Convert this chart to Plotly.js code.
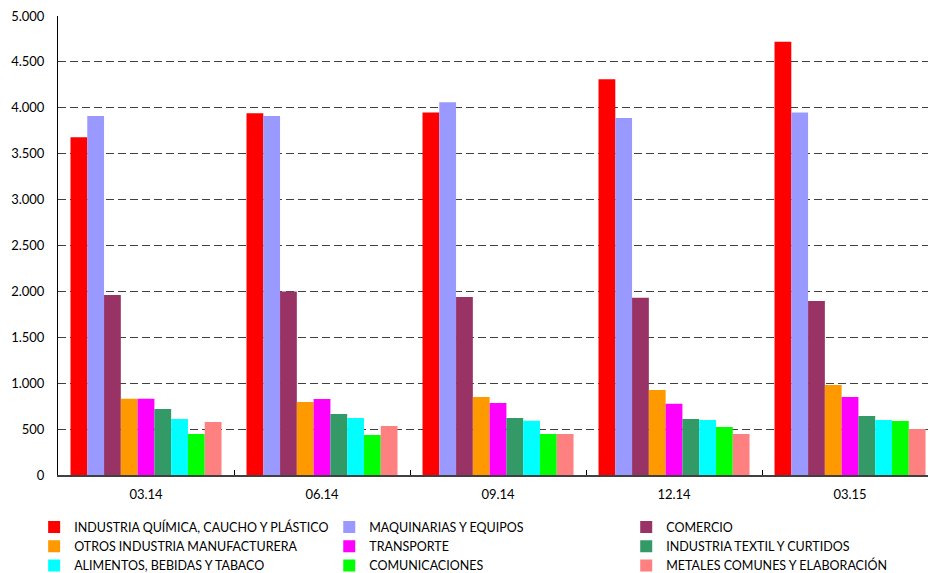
<!DOCTYPE html>
<html>
<head>
<meta charset="utf-8">
<script src="https://cdn.plot.ly/plotly-3.0.1.min.js"></script>
<style>
html,body{margin:0;padding:0;overflow:hidden;background:#fff;}
#chart{width:928px;height:573px;}
</style>
</head>
<body>
<div id="chart"></div>
<script>
var periods = ["03.14", "06.14", "09.14", "12.14", "03.15"];

var seriesNames = [
  "INDUSTRIA QUÍMICA, CAUCHO Y PLÁSTICO",
  "MAQUINARIAS Y EQUIPOS",
  "COMERCIO",
  "OTROS INDUSTRIA MANUFACTURERA",
  "TRANSPORTE",
  "INDUSTRIA TEXTIL Y CURTIDOS",
  "ALIMENTOS, BEBIDAS Y TABACO",
  "COMUNICACIONES",
  "METALES COMUNES Y ELABORACIÓN"
];

var quimica       = [3680, 3940, 3950, 4310, 4720];
var maquinarias   = [3910, 3910, 4060, 3890, 3950];
var comercio      = [1960, 2000, 1940, 1930, 1895];
var otrosInd      = [830, 795, 850, 925, 980];
var transporte    = [830, 828, 785, 775, 850];
var textil        = [720, 665, 620, 610, 643];
var alimentos     = [610, 620, 590, 600, 600];
var comunicaciones= [447, 436, 447, 523, 588];
var metales       = [577, 534, 447, 447, 501];

var seriesValues = [quimica, maquinarias, comercio, otrosInd, transporte, textil, alimentos, comunicaciones, metales];
var colors = ["#FF0000", "#9999FF", "#993366", "#FF9900", "#FF00FF", "#339966", "#00FFFF", "#00FF00", "#FF8080"];
var legendIds = ["legend", "legend2", "legend3"];

var traces = seriesNames.map(function(name, i) {
  return {
    type: "bar",
    name: name,
    x: periods,
    y: seriesValues[i],
    marker: {color: colors[i], line: {width: 0}},
    legend: legendIds[i % 3],
    hoverinfo: "x+y+name"
  };
});

var legendFont = {family: "Lato, 'Liberation Sans', sans-serif", size: 12.5, color: "#000"};
function mkLegend(x) {
  return {
    xref: "container", yref: "container",
    x: x, y: 0.106, xanchor: "left", yanchor: "top",
    orientation: "v", font: legendFont,
    bgcolor: "rgba(0,0,0,0)", borderwidth: 0,
    tracegroupgap: 0, itemwidth: 30,
    traceorder: "normal"
  };
}

var layout = {
  width: 928, height: 573,
  margin: {l: 58, r: 0, t: 16, b: 98, pad: 0, autoexpand: false},
  paper_bgcolor: "#fff", plot_bgcolor: "#fff",
  separators: ",.",
  barmode: "group",
  bargap: 0.142,
  bargroupgap: 0,
  font: {family: "Lato, 'Liberation Sans', sans-serif", size: 13, color: "#000"},
  xaxis: {
    type: "category",
    range: [-0.5, 4.443],
    showline: true, linecolor: "#404040", linewidth: 2,
    ticks: "inside", ticklen: 5, tickcolor: "#000", tickwidth: 1,
    tickson: "boundaries",
    showgrid: false, zeroline: false,
    tickangle: 0,
    tickfont: {size: 13, color: "#000"},
    ticklabelstandoff: 6
  },
  yaxis: {
    range: [0, 5000], dtick: 500, tick0: 0,
    tickformat: ",d",
    showline: true, linecolor: "#000", linewidth: 1,
    ticks: "", showgrid: true, gridcolor: "#404040", gridwidth: 1,
    griddash: "8px,4px",
    zeroline: false,
    tickfont: {size: 13, color: "#000"},
    ticklabelstandoff: 10
  },
  showlegend: true,
  legend: mkLegend(0.0368),
  legend2: mkLegend(0.3548),
  legend3: mkLegend(0.6748)
};

Plotly.newPlot("chart", traces, layout, {displayModeBar: false, staticPlot: true});
</script>
</body>
</html>
